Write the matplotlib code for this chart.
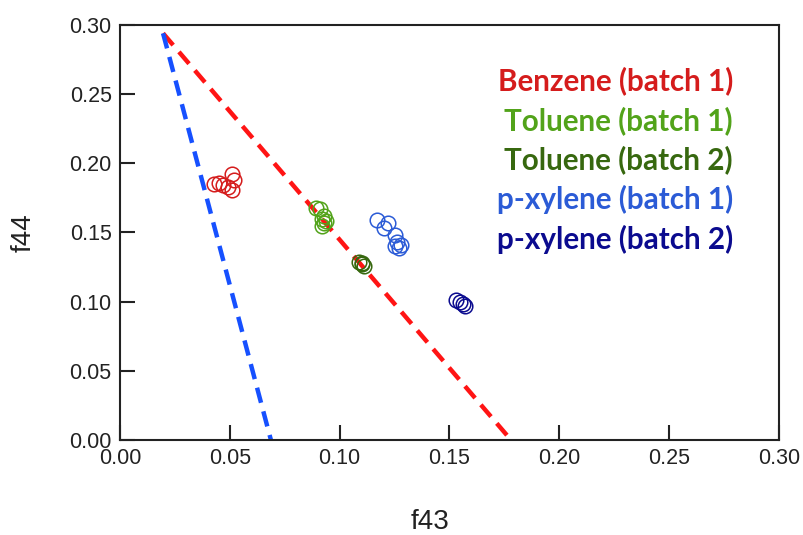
import numpy as np
import matplotlib.pyplot as plt

# data (f43, f44)
benz1_f43 = [0.043, 0.045, 0.047, 0.049, 0.051, 0.052, 0.051]
benz1_f44 = [0.185, 0.186, 0.184, 0.183, 0.181, 0.188, 0.192]
tol1_f43 = [0.089, 0.091, 0.092, 0.093, 0.094, 0.092, 0.093]
tol1_f44 = [0.168, 0.167, 0.160, 0.157, 0.158, 0.155, 0.162]
tol2_f43 = [0.109, 0.110, 0.111, 0.110]
tol2_f44 = [0.129, 0.127, 0.126, 0.128]
pxy1_f43 = [0.117, 0.120, 0.122, 0.125, 0.126, 0.128, 0.127, 0.125]
pxy1_f44 = [0.159, 0.153, 0.157, 0.148, 0.143, 0.141, 0.139, 0.140]
pxy2_f43 = [0.153, 0.155, 0.156, 0.157]
pxy2_f44 = [0.101, 0.100, 0.098, 0.097]

# triangle edges
red_x = [0.0196, 0.178]
red_y = [0.294, 0.0]
blue_x = [0.0196, 0.0687]
blue_y = [0.294, 0.0]

series = [
    ("Benzene (batch 1)", benz1_f43, benz1_f44, "#d51c1c"),
    ("Toluene (batch 1)", tol1_f43, tol1_f44, "#52a31a"),
    ("Toluene (batch 2)", tol2_f43, tol2_f44, "#37680f"),
    ("p-xylene (batch 1)", pxy1_f43, pxy1_f44, "#2b5bd6"),
    ("p-xylene (batch 2)", pxy2_f43, pxy2_f44, "#0b0b8f"),
]

fig = plt.figure(figsize=(8.04, 5.35), dpi=100)
ax = fig.add_axes([120 / 804, 1 - 440 / 535, 659 / 804, 415 / 535])

ax.plot(red_x, red_y, ls=(0, (3.5, 2)), color="#ff1414", lw=3.2)
ax.plot(blue_x, blue_y, ls=(0, (3.5, 2)), color="#1650ff", lw=3.2)

for name, xs, ys, col in series:
    ax.plot(xs, ys, "o", mfc="none", mec=col, ms=10.5, mew=1.1, ls="none")

ax.set_xlim(0, 0.30)
ax.set_ylim(0, 0.30)
ticks = np.arange(0, 0.301, 0.05)
ax.set_xticks(ticks)
ax.set_yticks(ticks)
ax.set_xticklabels([f"{t:.2f}" for t in ticks])
ax.set_yticklabels([f"{t:.2f}" for t in ticks])
ax.tick_params(direction="in", length=11, width=1.5, labelsize=15.5, pad=6,
               colors="#222222", labelcolor="#222222")
for lab in ax.get_xticklabels() + ax.get_yticklabels():
    lab.set_family("Liberation Sans")
for s in ax.spines.values():
    s.set_linewidth(1.5)
    s.set_color("#222222")

fig.text(430 / 804, 1 - 522 / 535, "f43", ha="center", va="center",
         fontsize=20, family="Liberation Sans", color="#222222")
fig.text(24 / 804, 1 - 233 / 535, "f44", ha="center", va="center",
         rotation=90, fontsize=20, family="Liberation Sans", color="#222222")

for i, (name, xs, ys, col) in enumerate(series):
    fig.text(733 / 804, 1 - (81 + 39.5 * i) / 535, name, ha="right", va="center",
             fontsize=21.3, fontweight="bold", family="Lato", color=col)

fig.savefig("out.png", dpi=100)
